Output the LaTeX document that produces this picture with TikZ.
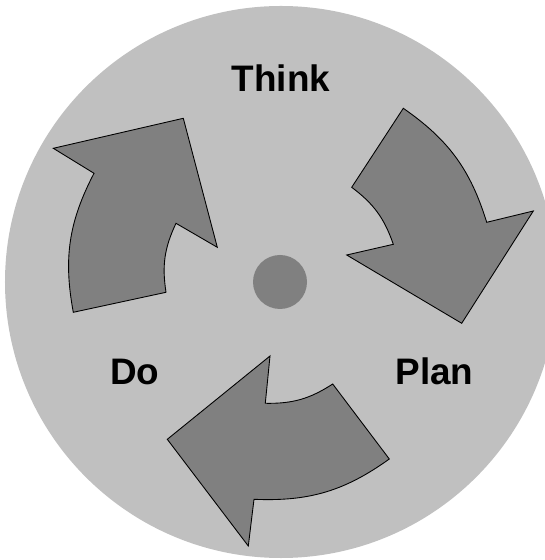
\documentclass[tikz,border=0pt]{standalone}
\usepackage{fontspec}
\setmainfont{Liberation Sans}
\usetikzlibrary{arrows.meta}
\definecolor{cyclebg}{HTML}{C0C0C0}
\definecolor{cyclearrow}{HTML}{808080}

\begin{document}
\begin{tikzpicture}[x=0.02cm,y=0.02cm,
    turn/.style={fill=cyclearrow,draw=black,line width=0.5pt,line join=miter},
    stage/.style={font=\fontsize{21}{25}\selectfont\bfseries,anchor=base}]
  \useasboundingbox (-280,-278) rectangle (264,282);
  \fill[cyclebg] (1,0) circle (276);
  \fill[cyclearrow] (0,0) circle (27);
  % Do -> Think
  \filldraw[turn] (-206.7,-30.3) -- (-114,-10.3) to[bend left=17] (-104,58.7)
    -- (-62.7,34.7) -- (-96.7,163.7) -- (-226.7,133.7) -- (-186,108.7)
    to[bend right=19] cycle;
  % Think -> Plan
  \filldraw[turn] (123.3,173.7) -- (71.7,94.7) to[bend left=17] (113.3,37.7)
    -- (66.7,27) -- (181.7,-41.3) -- (253.3,71) -- (206.7,59.7)
    to[bend right=19] cycle;
  % Plan -> Do
  \filldraw[turn] (109.3,-177) -- (52.7,-102) to[bend left=17] (-14.7,-121.3)
    -- (-10,-74) -- (-112.7,-157.3) -- (-31.7,-264) -- (-26,-217.3)
    to[bend right=19] cycle;
  \node[stage] (think) at (1,190) {Think};
  \node[stage] (do) at (-145.3,-102) {Do};
  \node[stage] (plan) at (154.5,-102) {Plan};
\end{tikzpicture}
\end{document}
